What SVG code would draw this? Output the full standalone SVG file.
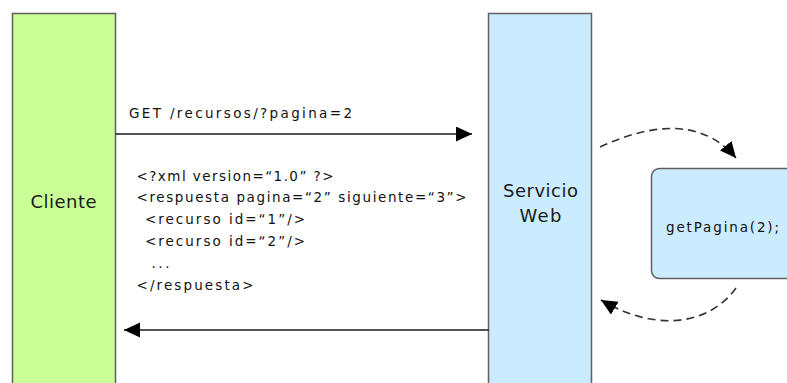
<svg xmlns="http://www.w3.org/2000/svg" width="787" height="383" viewBox="0 0 787 383">
  <style>
    .lane { stroke: #5f5f5f; stroke-width: 1.5; }
    .client { fill: #c9ff96; }
    .service { fill: #cbebff; }
    .title { font-family: "DejaVu Sans", "Liberation Sans", sans-serif; font-size: 18px; fill: #1a1a1a; text-anchor: middle; }
    .label { font-family: "DejaVu Sans", "Liberation Sans", sans-serif; font-size: 13.5px; fill: #111; }
    .msg { fill: none; stroke: #1a1a1a; stroke-width: 1.6; }
    .call { fill: none; stroke: #333; stroke-width: 1.6; stroke-dasharray: 8 5; }
  </style>
  <defs>
    <marker id="head" markerUnits="userSpaceOnUse" markerWidth="17" markerHeight="16" refX="16" refY="7.5" orient="auto">
      <path d="M0,0 L16,7.5 L0,15 z" fill="#000"/>
    </marker>
  </defs>

  <rect width="787" height="383" fill="#fff"/>

  <!-- client lane -->
  <g id="cliente">
    <rect class="lane client" x="12.5" y="13.5" width="103" height="380"/>
    <text class="title" x="63.5" y="208" textLength="66" lengthAdjust="spacing">Cliente</text>
  </g>

  <!-- web service lane -->
  <g id="servicio-web">
    <rect class="lane service" x="488.5" y="13.5" width="103" height="380"/>
    <text class="title" x="540.5" y="196.5" textLength="75" lengthAdjust="spacing">Servicio</text>
    <text class="title" x="540.5" y="221.5" textLength="42" lengthAdjust="spacing">Web</text>
  </g>

  <!-- server-side call -->
  <g id="get-pagina">
    <rect class="lane service" x="651.5" y="168.5" width="160" height="110" rx="8" ry="8"/>
    <text class="label" x="666" y="231.5" textLength="113" lengthAdjust="spacing">getPagina(2);</text>
  </g>

  <!-- messages -->
  <g id="connectors">
    <line class="msg" x1="115.5" y1="134" x2="472" y2="134" marker-end="url(#head)"/>
    <line class="msg" x1="488.5" y1="330" x2="124" y2="330" marker-end="url(#head)"/>
    <path class="call" d="M600,147 C645,126 700,115 736,158" marker-end="url(#head)"/>
    <path class="call" d="M736,288 C712,322 660,335 601,300" marker-end="url(#head)"/>
  </g>

  <!-- request and response text -->
  <g id="mensajes">
    <text class="label" x="129" y="118" textLength="223" lengthAdjust="spacing">GET /recursos/?pagina=2</text>
    <text class="label" x="136.5" y="180.5" textLength="197" lengthAdjust="spacing">&lt;?xml version=“1.0” ?&gt;</text>
    <text class="label" x="136.5" y="202" textLength="330" lengthAdjust="spacing">&lt;respuesta pagina=“2” siguiente=“3”&gt;</text>
    <text class="label" x="145" y="223.5" textLength="160" lengthAdjust="spacing">&lt;recurso id=“1”/&gt;</text>
    <text class="label" x="145" y="245.5" textLength="160" lengthAdjust="spacing">&lt;recurso id=“2”/&gt;</text>
    <text class="label" x="151.5" y="267.5" textLength="18" lengthAdjust="spacing">...</text>
    <text class="label" x="136.5" y="289.5" textLength="117" lengthAdjust="spacing">&lt;/respuesta&gt;</text>
  </g>
</svg>
